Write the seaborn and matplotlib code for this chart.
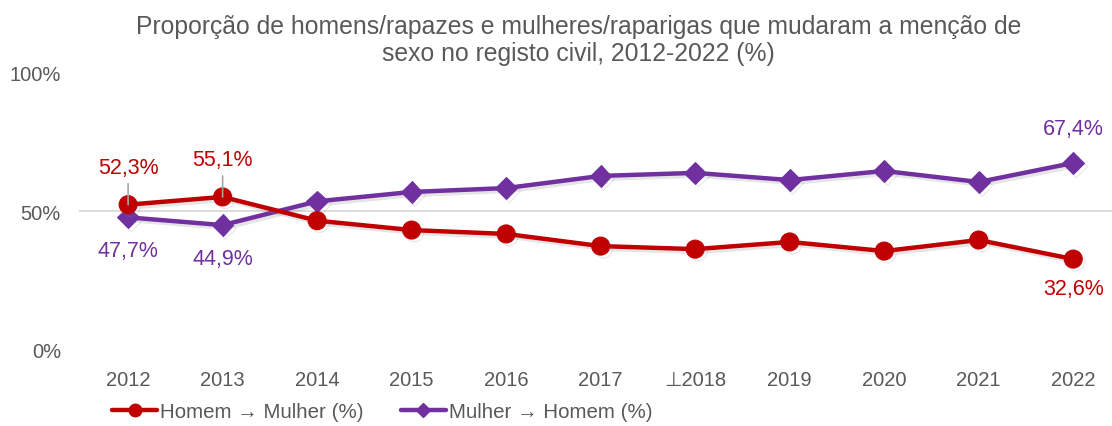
import pandas as pd
import numpy as np
import matplotlib
matplotlib.use('Agg')
import matplotlib.pyplot as plt
import matplotlib.patheffects as pe
from matplotlib.lines import Line2D
import seaborn as sns

# dados (%)
anos = ['2012', '2013', '2014', '2015', '2016', '2017', '2018', '2019', '2020', '2021', '2022']
rotulos_x = ['2012', '2013', '2014', '2015', '2016', '2017', '⊥2018', '2019', '2020', '2021', '2022']
homem_mulher = [52.3, 55.1, 46.5, 43.1, 41.7, 37.3, 36.2, 38.8, 35.5, 39.5, 32.6]
mulher_homem = [47.7, 44.9, 53.5, 56.9, 58.3, 62.7, 63.8, 61.2, 64.5, 60.5, 67.4]

VERMELHO = '#C00000'
ROXO = '#7030A0'
CINZA = '#595959'

sns.set_style('white')
plt.rcParams['font.family'] = ['Liberation Sans', 'DejaVu Sans']

df = pd.DataFrame({'pos': np.arange(len(anos)), 'hm': homem_mulher, 'mh': mulher_homem})

fig = plt.figure(figsize=(11.12, 4.27), dpi=100)
ax = fig.add_axes([0.071, 0.180, 0.929, 0.647])

sombra = [pe.SimpleLineShadow(offset=(2, -2), shadow_color='#808080', alpha=0.2), pe.Normal()]
ax.axhline(50, color='#D9D9D9', lw=1.3, zorder=0)
sns.lineplot(data=df, x='pos', y='mh', ax=ax, color=ROXO, lw=3.2, marker='D', markersize=11,
             markeredgecolor=ROXO, path_effects=sombra, zorder=3)
sns.lineplot(data=df, x='pos', y='hm', ax=ax, color=VERMELHO, lw=3.2, marker='o', markersize=13,
             markeredgecolor=VERMELHO, path_effects=sombra, zorder=4)

ax.set_xlim(-0.52, 10.41)
ax.set_ylim(0, 100)
ax.set_xticks(df['pos'])
ax.set_xticklabels(rotulos_x)
ax.set_yticks([0, 50, 100])
ax.set_yticklabels(['0%', '50%', '100%'])
ax.tick_params(axis='both', length=0, labelsize=14.5, labelcolor=CINZA)
ax.tick_params(axis='x', pad=15)
ax.tick_params(axis='y', pad=13)
ax.set_xlabel('')
ax.set_ylabel('')
for s in ax.spines.values():
    s.set_visible(False)

def fmt(v):
    return f'{v:.1f}%'.replace('.', ',')

# rótulos de dados
kw = dict(textcoords='offset points', ha='center', va='center', fontsize=15.5)
guia = dict(arrowstyle='-', color='#A6A6A6', lw=1.2, shrinkA=2, shrinkB=0)
ax.annotate(fmt(homem_mulher[0]), xy=(0, homem_mulher[0]), xytext=(0, 27), color=VERMELHO,
            arrowprops=guia, zorder=6, **kw)
ax.annotate(fmt(homem_mulher[1]), xy=(1, homem_mulher[1]), xytext=(0, 27), color=VERMELHO,
            arrowprops=guia, zorder=6, **kw)
ax.annotate(fmt(mulher_homem[0]), xy=(0, mulher_homem[0]), xytext=(0, -24), color=ROXO, **kw)
ax.annotate(fmt(mulher_homem[1]), xy=(1, mulher_homem[1]), xytext=(0, -24), color=ROXO, **kw)
ax.annotate(fmt(mulher_homem[-1]), xy=(10, mulher_homem[-1]), xytext=(0, 24.5), color=ROXO, **kw)
ax.annotate(fmt(homem_mulher[-1]), xy=(10, homem_mulher[-1]), xytext=(0, -21.5), color=VERMELHO, **kw)

fig.suptitle('Proporção de homens/rapazes e mulheres/raparigas que mudaram a menção de\nsexo no registo civil, 2012-2022 (%)',
             x=0.52, y=0.966, va='top', fontsize=17.8, color=CINZA, linespacing=1.2)

handles = [Line2D([], [], color=VERMELHO, lw=3.2, marker='o', markersize=9),
           Line2D([], [], color=ROXO, lw=3.2, marker='D', markersize=7)]
fig.legend(handles, ['Homem → Mulher (%)', 'Mulher → Homem (%)'], ncol=2, frameon=False,
           loc='center left', bbox_to_anchor=(0.084, 0.033), fontsize=14.8, labelcolor=CINZA,
           handlelength=2.2, handletextpad=0.15, columnspacing=1.8)

fig.savefig('out.png', dpi=100)
